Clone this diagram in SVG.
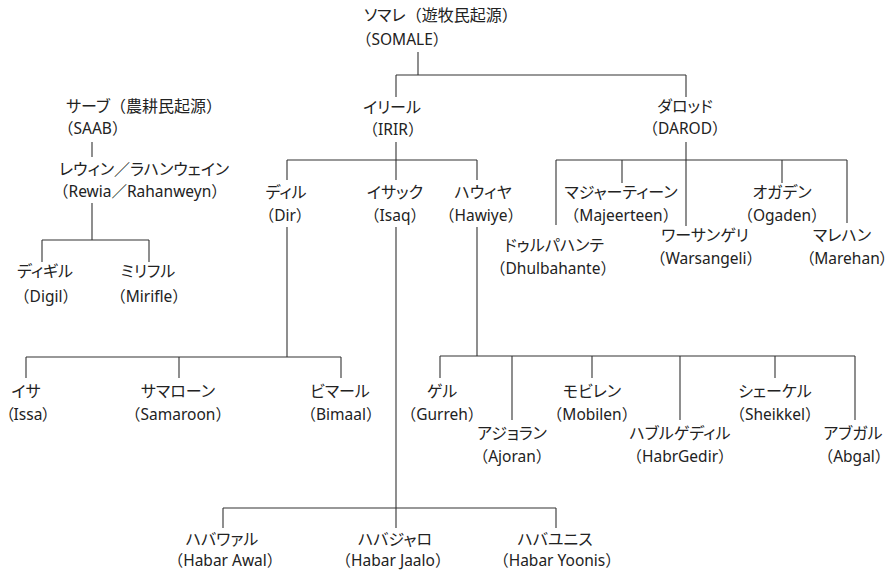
<svg xmlns="http://www.w3.org/2000/svg" width="892" height="571" viewBox="0 0 892 571">
<style>
text{font-family:"Noto Sans CJK JP","Noto Sans",sans-serif;font-size:16px;fill:#222;text-anchor:middle;font-feature-settings:"palt"}
text.e{font-family:"Noto Sans","Noto Sans CJK JP",sans-serif;font-size:15.5px;font-feature-settings:normal}
text.e.n{font-feature-settings:"palt"}
tspan.p{font-feature-settings:normal}
tspan.g{font-feature-settings:"palt"}
text.l{text-anchor:start}
#connectors path{stroke:#333;stroke-width:1.1;fill:none}
</style>
<rect width="892" height="571" fill="#fff"/>
<g id="connectors">
<path d="M418,52V75M396,75H686M396,75V97M686,75V97"/>
<path d="M92,142V157"/>
<path d="M92,203V240M42,240H149M42,240V262M149,240V262"/>
<path d="M396,142V180M287,160H477M287,160V180M477,160V180"/>
<path d="M287,227V357M26,357H341M26,357V378M179,357V378M341,357V378"/>
<path d="M396,227V528M223,508H556M223,508V528M556,508V528"/>
<path d="M477,227V356M440,356H855M440,356V378M512,356V420M592,356V378M680,356V420M775,356V378M855,356V420"/>
<path d="M686,142V226M556,160H847M556,160V225M622,160V183M782,160V183M847,160V223"/>
</g>
<g id="somale"><text class="l" x="364" y="21">ソマレ<tspan class="p">（</tspan>遊牧民起源<tspan class="p">）</tspan></text><text class="e l" x="356" y="45">（SOMALE）</text></g>
<g id="saab"><text class="l" x="66" y="112">サーブ<tspan class="p">（</tspan>農耕民起源<tspan class="p">）</tspan></text><text class="e l" x="58" y="134">（SAAB）</text></g>
<g id="rewia"><text class="l" x="59" y="175">レウィン／ラハンウェイン</text><text class="e l" x="53" y="197">（Rewia／Rahanweyn）</text></g>
<g id="digil"><text x="45" y="277">ディギル</text><text class="e" x="46" y="302">（Digil）</text></g>
<g id="mirifle"><text x="148" y="277">ミリフル</text><text class="e" x="149" y="302">（Mirifle）</text></g>
<g id="irir"><text x="392" y="113">イリール</text><text class="e" x="393" y="135">（IRIR）</text></g>
<g id="darod"><text x="685" y="112">ダロッド</text><text class="e" x="685" y="134">（DAROD）</text></g>
<g id="dir"><text x="286" y="198">ディル</text><text class="e" x="285" y="221">（Dir）</text></g>
<g id="isaq"><text x="395" y="198">イサック</text><text class="e" x="395" y="221">（Isaq）</text></g>
<g id="hawiye"><text x="483" y="198">ハウィヤ</text><text class="e" x="481" y="221">（Hawiye）</text></g>
<g id="majeerteen"><text x="621" y="198">マジャーティーン</text><text class="e" x="621" y="221">（Majeerteen）</text></g>
<g id="ogaden"><text x="782" y="198">オガデン</text><text class="e" x="782" y="221">（Ogaden）</text></g>
<g id="dhulbahante"><text x="554" y="251">ドゥルパハンテ</text><text class="e" x="553" y="274">（Dhulbahante）</text></g>
<g id="warsangeli"><text x="705" y="241">ワーサンゲリ</text><text class="e" x="706" y="264">（Warsangeli）</text></g>
<g id="marehan"><text x="842" y="241">マレハン</text><text class="e n" x="847" y="264">（Marehan）</text></g>
<g id="issa"><text x="26" y="397">イサ</text><text class="e n" x="28" y="420">（Issa）</text></g>
<g id="samaroon"><text x="178" y="397">サマローン</text><text class="e" x="178" y="420">（Samaroon）</text></g>
<g id="bimaal"><text x="340" y="397">ビマール</text><text class="e" x="341" y="420">（Bimaal）</text></g>
<g id="gurreh"><text x="442" y="397">ゲル</text><text class="e" x="442" y="420">（Gurreh）</text></g>
<g id="ajoran"><text x="512" y="439">アジョラン</text><text class="e" x="512" y="462">（Ajoran）</text></g>
<g id="mobilen"><text x="592" y="397">モビレン</text><text class="e" x="592" y="420">（Mobilen）</text></g>
<g id="habrgedir"><text x="680" y="439">ハブルゲディル</text><text class="e" x="680" y="462">（HabrGedir）</text></g>
<g id="sheikkel"><text x="775" y="397">シェーケル</text><text class="e" x="775" y="420">（Sheikkel）</text></g>
<g id="abgal"><text x="853" y="439">アブガル</text><text class="e" x="854" y="462">（Abgal）</text></g>
<g id="habarawal"><text x="222" y="545">ハバワァル</text><text class="e" x="225" y="566">（Habar Awal）</text></g>
<g id="habarjaalo"><text x="395" y="545">ハバジャロ</text><text class="e" x="393" y="566">（Habar Jaalo）</text></g>
<g id="habaryoonis"><text x="555" y="545">ハバユニス</text><text class="e" x="557" y="566">（Habar Yoonis）</text></g>
</svg>
